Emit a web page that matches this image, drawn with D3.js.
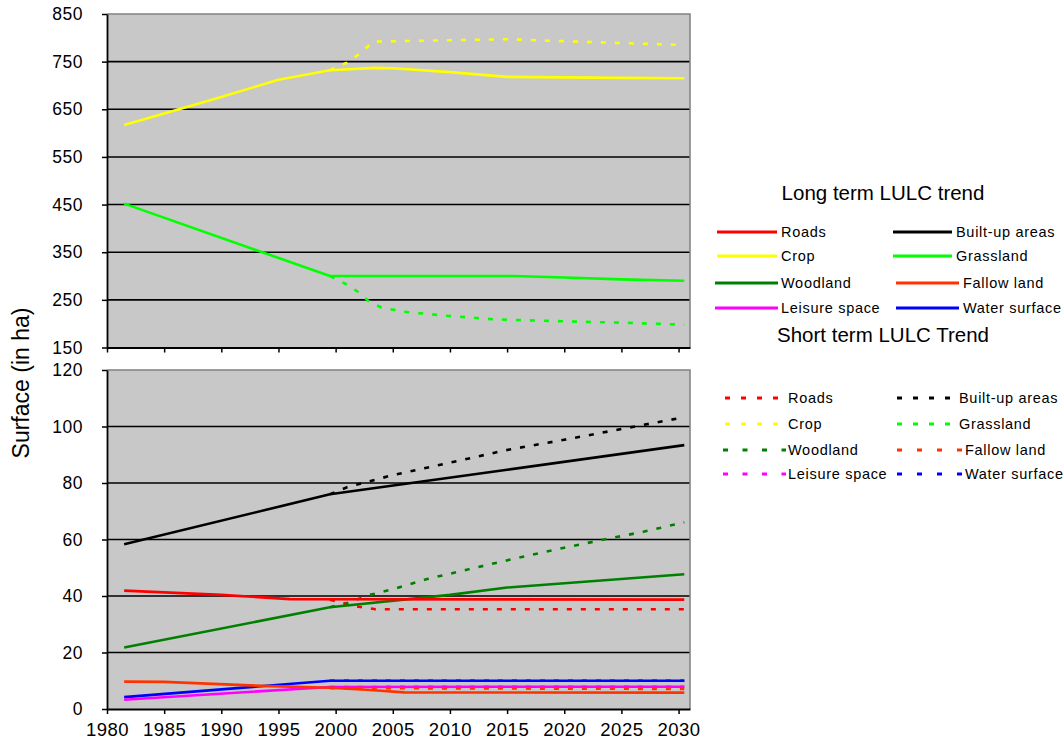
<!DOCTYPE html>
<html>
<head>
<meta charset="utf-8">
<script src="https://cdn.jsdelivr.net/npm/d3@7/dist/d3.min.js"></script>
<style>
  html, body { margin: 0; padding: 0; background: #fff; }
  svg { display: block; font-family: "Liberation Sans", Arial, sans-serif; }
</style>
</head>
<body>
<svg id="chart" width="1064" height="749"></svg>
<script>
// ---- data: [year, surface in ha] ----
const cropLong  = [[1981.5,617],[1985,641],[1990,676],[1995,712],[1999.5,732],[2003.5,737],[2005,736],[2010,728],[2015,718],[2020,717],[2025,716],[2030.5,715]];
const cropShort = [[1999.5,732],[2001,748],[2002,765],[2003.3,792],[2010,795],[2015,797],[2020,793],[2025,789],[2030.5,785]];
const grassLong  = [[1981.5,452],[1999.5,300],[2015.5,300],[2020,297],[2025,293],[2030.5,290]];
const grassShort = [[1999.5,300],[2001,282],[2002,266],[2003,245],[2004,234],[2006,225],[2010,216],[2014,209],[2020,205],[2025,202],[2030.5,198]];

const builtLong  = [[1981.5,58.3],[1999.5,76],[2015,84.7],[2030.5,93.4]];
const builtShort = [[1999.5,76],[2001,78.5],[2005,82.8],[2010,87.2],[2015,91.7],[2020,95.3],[2025,99.1],[2030.5,103.3]];
const roadsLong  = [[1981.5,41.9],[1990,40.4],[1996,38.9],[2030.5,38.7]];
const roadsShort = [[1999.5,38.7],[2001.5,36.5],[2003.5,35.3],[2030.5,35.3]];
const woodLong   = [[1981.5,21.8],[1999.5,36],[2010,40.4],[2015,43],[2030.5,47.7]];
const woodShort  = [[1999.5,36],[2001,37.5],[2003,40.4],[2005,42.4],[2008,46],[2012,49.8],[2015.5,53.1],[2020,57.1],[2024,60.4],[2027,62.8],[2030.5,66.1]];
const fallowLong  = [[1981.5,9.7],[1985,9.6],[1993.5,8.2],[1999.5,7.5],[2003,6.7],[2006,5.9],[2030.5,5.8]];
const fallowShort = [[1999.5,7.4],[2030.5,7.1]];
const waterLong   = [[1981.5,4.2],[1999.5,10],[2030.5,10]];
const waterShort  = [[1999.5,10],[2030.5,10]];
const leisureLong  = [[1981.5,3.3],[1999.5,7.8],[2030.5,7.9]];
const leisureShort = [[1999.5,7.8],[2030.5,7.9]];

const yearTicks  = [1980,1985,1990,1995,2000,2005,2010,2015,2020,2025,2030];
const upperTicks = [150,250,350,450,550,650,750,850];
const lowerTicks = [0,20,40,60,80,100,120];

const classNames = ["Roads","Built-up areas","Crop","Grassland","Woodland","Fallow land","Leisure space","Water surface"];
const classColors = {
  "Roads":"#ff0000", "Built-up areas":"#000000", "Crop":"#ffff00", "Grassland":"#00ff00",
  "Woodland":"#008000", "Fallow land":"#ff3300", "Leisure space":"#ff00ff", "Water surface":"#0000ff"
};

// ---- layout ----
const svg = d3.select("#chart");
const left = 107, right = 690;
const x = d3.scaleLinear().domain([1980, 2031]).range([left, right]);
const yTop = d3.scaleLinear().domain([150, 850]).range([347.5, 14]);
const yBot = d3.scaleLinear().domain([0, 120]).range([709, 370]);
const plotBg = "#c8c8c8";

function panel(y, ticks, showLabels) {
  const [y0, y1] = y.range();
  const g = svg.append("g");
  g.append("rect").attr("x", left).attr("y", y1).attr("width", right - left).attr("height", y0 - y1)
    .attr("fill", plotBg);
  // gridlines
  g.selectAll("line.grid").data(ticks.slice(1, -1)).join("line")
    .attr("x1", left).attr("x2", right)
    .attr("y1", d => y(d)).attr("y2", d => y(d))
    .attr("stroke", "#000").attr("stroke-width", 1.6);
  // grey frame top/right
  g.append("path").attr("d", `M${left},${y1}H${right}V${y0}`)
    .attr("fill", "none").attr("stroke", "#808080").attr("stroke-width", 1.5);
  // y axis
  const ya = g.append("g").attr("transform", `translate(${left},0)`)
    .call(d3.axisLeft(y).tickValues(ticks).tickSize(5).tickSizeOuter(0).tickPadding(19));
  ya.select(".domain").attr("stroke", "#000").attr("stroke-width", 1.8);
  ya.selectAll(".tick line").attr("stroke", "#000").attr("stroke-width", 1.5);
  ya.selectAll("text").attr("font-size", 17.5).attr("fill", "#000")
    .attr("font-family", "Liberation Sans, Arial, sans-serif").attr("letter-spacing", 0.5);
  // x axis
  const xa = g.append("g").attr("transform", `translate(0,${y0})`)
    .call(d3.axisBottom(x).tickValues(yearTicks).tickSize(5).tickSizeOuter(0).tickPadding(9)
      .tickFormat(showLabels ? d3.format("d") : () => ""));
  xa.select(".domain").attr("stroke", "#000").attr("stroke-width", 1.8);
  xa.selectAll(".tick line").attr("stroke", "#000").attr("stroke-width", 1.5);
  xa.selectAll("text").attr("font-size", 18.5).attr("fill", "#000")
    .attr("font-family", "Liberation Sans, Arial, sans-serif").attr("letter-spacing", 0.5);
  return g;
}

const topPanel = panel(yTop, upperTicks, false);
const botPanel = panel(yBot, lowerTicks, true);

function drawSeries(g, y, pts, color, dashed) {
  const line = d3.line().x(d => x(d[0])).y(d => y(d[1]));
  g.append("path").datum(pts).attr("d", line)
    .attr("fill", "none").attr("stroke", color).attr("stroke-width", 2.6)
    .attr("stroke-linejoin", "round")
    .attr("stroke-dasharray", dashed ? "5,9" : null);
}

// upper panel: crop and grassland
drawSeries(topPanel, yTop, grassShort, classColors["Grassland"], true);
drawSeries(topPanel, yTop, cropShort, classColors["Crop"], true);
drawSeries(topPanel, yTop, grassLong, classColors["Grassland"], false);
drawSeries(topPanel, yTop, cropLong, classColors["Crop"], false);

// lower panel: remaining classes
drawSeries(botPanel, yBot, waterShort, classColors["Water surface"], true);
drawSeries(botPanel, yBot, leisureShort, classColors["Leisure space"], true);
drawSeries(botPanel, yBot, builtShort, classColors["Built-up areas"], true);
drawSeries(botPanel, yBot, woodShort, classColors["Woodland"], true);
drawSeries(botPanel, yBot, roadsShort, classColors["Roads"], true);
drawSeries(botPanel, yBot, builtLong, classColors["Built-up areas"], false);
drawSeries(botPanel, yBot, woodLong, classColors["Woodland"], false);
drawSeries(botPanel, yBot, roadsLong, classColors["Roads"], false);
drawSeries(botPanel, yBot, waterLong, classColors["Water surface"], false);
drawSeries(botPanel, yBot, leisureLong, classColors["Leisure space"], false);
drawSeries(botPanel, yBot, fallowLong, classColors["Fallow land"], false);
drawSeries(botPanel, yBot, fallowShort, classColors["Fallow land"], true);

// y axis title
svg.append("text").attr("transform", "translate(29,383) rotate(-90)")
  .attr("text-anchor", "middle").attr("font-size", 23).attr("fill", "#000")
  .text("Surface (in ha)");

// ---- legends ----
function legend(title, titleY, rows, cols, dashed) {
  const g = svg.append("g");
  g.append("text").attr("x", 883).attr("y", titleY).attr("text-anchor", "middle")
    .attr("font-size", 20.5).attr("fill", "#000").text(title);
  classNames.forEach((name, i) => {
    const r = Math.floor(i / 2), c = i % 2;
    const cy = rows[r];
    const spec = cols[c][r < 2 ? 0 : 1];
    g.append("line").attr("x1", spec.x1).attr("x2", spec.x2).attr("y1", cy).attr("y2", cy)
      .attr("stroke", classColors[name]).attr("stroke-width", 3)
      .attr("stroke-dasharray", dashed ? spec.dash : null);
    g.append("text").attr("x", spec.tx).attr("y", cy + 5).attr("font-size", 14.5)
      .attr("letter-spacing", 0.7).attr("fill", "#000").text(name);
  });
}

legend("Long term LULC trend", 200, [232, 256, 283, 308], [
  [{x1:717, x2:777, tx:781}, {x1:715, x2:778, tx:781}],
  [{x1:893, x2:952, tx:956}, {x1:896, x2:959, tx:963}]
], false);

legend("Short term LULC Trend", 342, [398, 424, 450, 474], [
  [{x1:725, x2:779, tx:788, dash:"5,11"}, {x1:723, x2:786, tx:788, dash:"5,14.5"}],
  [{x1:897, x2:951, tx:959, dash:"5,11"}, {x1:897, x2:963, tx:965, dash:"5,15"}]
], true);
</script>
</body>
</html>
